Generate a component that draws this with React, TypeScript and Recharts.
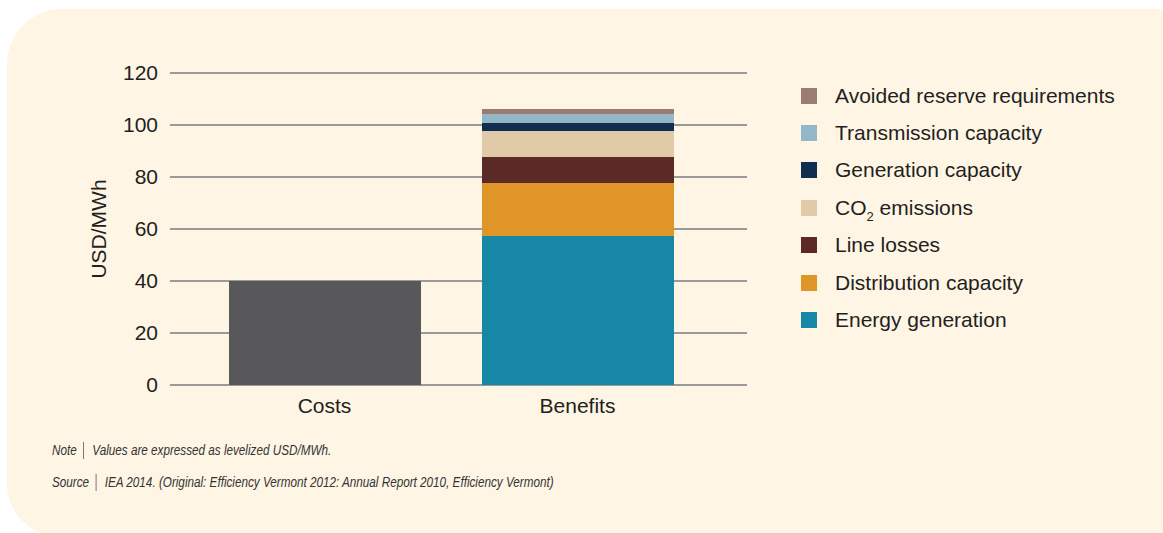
import React from 'react';
import { BarChart, Bar, XAxis, YAxis, CartesianGrid, Label } from 'recharts';

const categories = ['Costs', 'Benefits'];
const costs = [40, 0];
const energyGeneration = [0, 57.3];
const distributionCapacity = [0, 20.4];
const lineLosses = [0, 10];
const co2Emissions = [0, 10];
const generationCapacity = [0, 3.1];
const transmissionCapacity = [0, 3.4];
const avoidedReserve = [0, 2];
const yTicks = [0, 20, 40, 60, 80, 100, 120];

const series = [
  { key: 'costs', name: 'Costs', color: '#58585a', values: costs, legend: false },
  { key: 'energy', name: 'Energy generation', color: '#1787a6', values: energyGeneration, legend: true },
  { key: 'distribution', name: 'Distribution capacity', color: '#df9528', values: distributionCapacity, legend: true },
  { key: 'lineLosses', name: 'Line losses', color: '#5b2a27', values: lineLosses, legend: true },
  { key: 'co2', name: 'CO2 emissions', color: '#e0caa8', values: co2Emissions, legend: true },
  { key: 'genCapacity', name: 'Generation capacity', color: '#112e51', values: generationCapacity, legend: true },
  { key: 'transmission', name: 'Transmission capacity', color: '#93b6c9', values: transmissionCapacity, legend: true },
  { key: 'reserve', name: 'Avoided reserve requirements', color: '#9c7b70', values: avoidedReserve, legend: true },
];

const data = categories.map((name, i) => {
  const row: Record<string, string | number> = { name };
  series.forEach((s) => {
    row[s.key] = s.values[i];
  });
  return row;
});

const font = '"Liberation Sans", Arial, sans-serif';
const textColor = '#231f20';

function LegendName({ name }: { name: string }) {
  if (name.startsWith('CO2')) {
    return (
      <span>
        CO<sub style={{ fontSize: 13, verticalAlign: -6, lineHeight: 0 }}>2</sub>
        {name.slice(3)}
      </span>
    );
  }
  return <span>{name}</span>;
}

function Sep() {
  return (
    <span
      style={{
        display: 'inline-block',
        width: 0,
        height: 17,
        borderLeft: '1.3px solid #555',
        verticalAlign: -4,
        margin: '0 11px 0 8px',
      }}
    />
  );
}

export default function App() {
  const legendItems = series.filter((s) => s.legend).reverse();

  return (
    <div style={{ position: 'absolute', left: 0, top: 0, width: 1163, height: 533, overflow: 'hidden', background: '#fff' }}>
      <div
        style={{
          position: 'absolute',
          left: 7,
          top: 9,
          right: 0,
          bottom: -3,
          background: '#fef5e5',
          borderTopLeftRadius: 55,
          borderBottomLeftRadius: 52,
        }}
      />
      <div style={{ position: 'absolute', left: 0, top: 0 }}>
        <BarChart
          width={760}
          height={440}
          data={data}
          margin={{ top: 73, right: 13, left: 0, bottom: 15 }}
        >
          <CartesianGrid vertical={false} stroke="#9a9a9a" strokeWidth={2} />
          <XAxis
            dataKey="name"
            axisLine={false}
            tickLine={false}
            tickMargin={7}
            height={40}
            padding={{ left: 28, right: 43 }}
            tick={{ fill: textColor, fontSize: 21, fontFamily: font }}
          />
          <YAxis
            domain={[0, 120]}
            ticks={yTicks}
            axisLine={false}
            tickLine={false}
            tickMargin={6}
            width={170}
            tick={{ fill: textColor, fontSize: 21, fontFamily: font }}
          >
            <Label
              value="USD/MWh"
              angle={-90}
              position="insideLeft"
              offset={99}
              style={{ textAnchor: 'middle', fill: textColor, fontSize: 21, fontFamily: font }}
            />
          </YAxis>
          {series.map((s) => (
            <Bar
              key={s.key}
              dataKey={s.key}
              name={s.name}
              stackId="a"
              fill={s.color}
              barSize={192}
              isAnimationActive={false}
            />
          ))}
        </BarChart>
      </div>

      <div style={{ position: 'absolute', left: 801, top: 77, fontFamily: font, fontSize: 21, color: textColor }}>
        {legendItems.map((s) => (
          <div key={s.key} style={{ display: 'flex', alignItems: 'center', height: 37.4 }}>
            <span style={{ display: 'inline-block', width: 16, height: 16, background: s.color, marginRight: 18 }} />
            <LegendName name={s.name} />
          </div>
        ))}
      </div>

      <div
        style={{
          position: 'absolute',
          left: 52,
          top: 439,
          fontFamily: font,
          fontStyle: 'italic',
          fontSize: 15,
          color: '#333',
          whiteSpace: 'nowrap',
          transform: 'scaleX(0.78)',
          transformOrigin: 'left top',
        }}
      >
        <div style={{ lineHeight: '22px' }}>
          Note<Sep />Values are expressed as levelized USD/MWh.
        </div>
        <div style={{ lineHeight: '22px', marginTop: 10 }}>
          Source<Sep />IEA 2014. (Original: Efficiency Vermont 2012: Annual Report 2010, Efficiency Vermont)
        </div>
      </div>
    </div>
  );
}
